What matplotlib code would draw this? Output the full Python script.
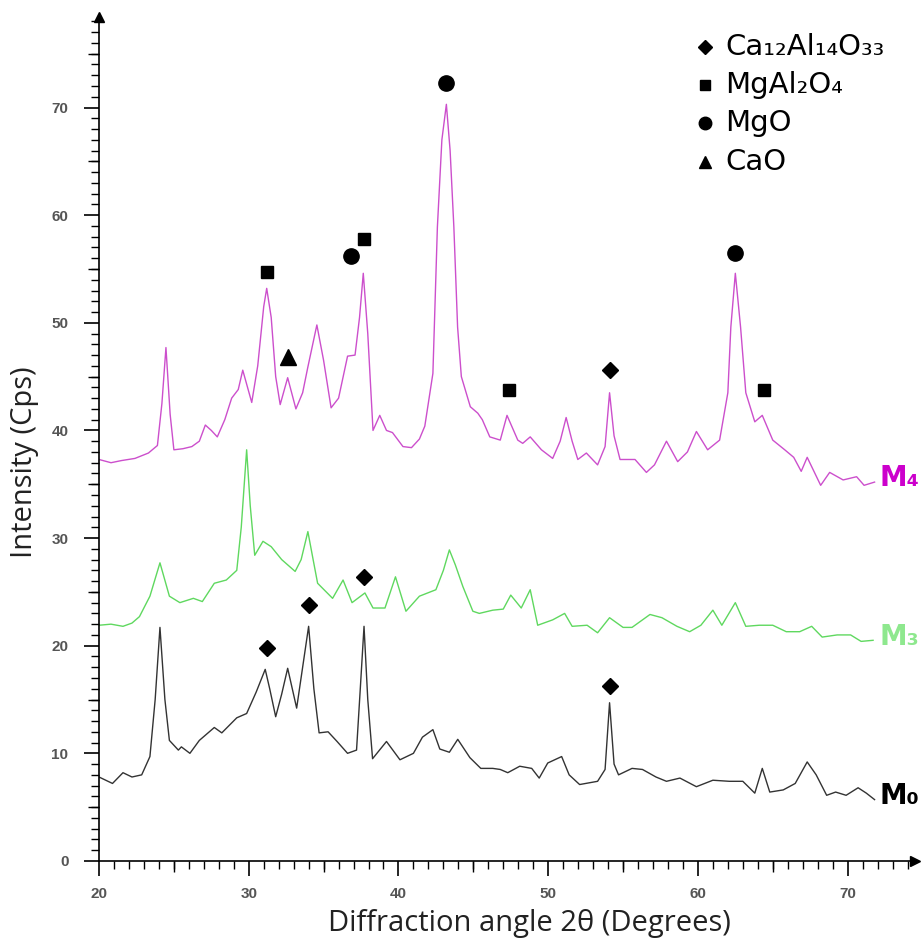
import matplotlib
matplotlib.use("Agg")
import matplotlib.pyplot as plt
from matplotlib.ticker import MultipleLocator, FixedLocator, NullFormatter

# ---------------- data ----------------
m4_x = [20.0, 20.8, 21.5, 22.4, 23.3, 23.9, 24.2, 24.47, 24.75, 25.0, 25.6, 26.2, 26.7, 27.1, 27.5, 27.9,
        28.4, 28.86, 29.3, 29.6, 30.2, 30.6, 31.0, 31.2, 31.5, 31.8, 32.1, 32.6, 33.15, 33.6, 33.95, 34.55,
        35.0, 35.5, 36.0, 36.6, 37.1, 37.4, 37.65, 37.95, 38.3, 38.75, 39.2, 39.6, 40.3, 40.87, 41.4, 41.76,
        42.3, 42.6, 42.9, 43.2, 43.45, 43.7, 43.95, 44.2, 44.8, 45.3, 45.6, 46.1, 46.8, 47.25, 47.97, 48.3,
        48.8, 49.55, 50.3, 50.8, 51.2, 51.6, 51.98, 52.55, 53.3, 53.8, 54.1, 54.4, 54.8, 55.8, 56.56, 57.1,
        57.9, 58.65, 59.3, 59.9, 60.65, 61.45, 62.0, 62.2, 62.5, 62.85, 63.2, 63.8, 64.3, 65.0, 65.8, 66.4,
        66.9, 67.3, 68.2, 68.8, 69.7, 70.6, 71.1, 71.8]
m4_y = [37.3, 37.0, 37.2, 37.4, 37.9, 38.6, 42.5, 47.7, 41.5, 38.2, 38.3, 38.5, 39.0, 40.5, 40.0, 39.4,
        41.0, 43.0, 43.8, 45.6, 42.6, 46.0, 51.5, 53.2, 50.5, 45.0, 42.4, 44.9, 42.0, 43.5, 45.9, 49.8,
        46.5, 42.1, 43.0, 46.9, 47.0, 50.5, 54.6, 49.0, 40.0, 41.4, 40.0, 39.8, 38.5, 38.4, 39.2, 40.4,
        45.3, 58.9, 67.0, 70.3, 66.0, 58.9, 49.6, 45.0, 42.2, 41.6, 41.0, 39.4, 39.1, 41.4, 39.1, 38.8,
        39.4, 38.2, 37.4, 39.0, 41.2, 39.0, 37.3, 37.9, 36.8, 38.5, 43.5, 39.5, 37.3, 37.3, 36.1, 36.8,
        39.0, 37.1, 38.0, 39.9, 38.2, 39.1, 43.5, 49.6, 54.6, 49.6, 43.5, 40.8, 41.4, 39.1, 38.2, 37.5,
        36.2, 37.5, 34.9, 36.1, 35.4, 35.7, 34.9, 35.2]

m3_x = [20.0, 20.8, 21.6, 22.2, 22.7, 23.4, 24.07, 24.7, 25.4, 26.3, 26.9, 27.7, 28.5, 29.2, 29.5, 29.86,
        30.1, 30.4, 30.95, 31.5, 32.2, 33.1, 33.5, 33.95, 34.3, 34.6, 35.6, 36.3, 36.9, 37.76, 38.3, 39.1,
        39.8, 40.5, 41.4, 42.5, 43.0, 43.4, 43.8, 44.3, 44.97, 45.4, 46.3, 47.0, 47.5, 48.2, 48.8, 49.3,
        50.3, 51.1, 51.6, 52.6, 53.3, 54.1, 55.0, 55.6, 56.8, 57.6, 58.6, 59.45, 60.2, 61.0, 61.6, 62.5,
        63.2, 64.1, 65.0, 65.9, 66.8, 67.6, 68.3, 69.3, 70.2, 70.9, 71.7]
m3_y = [21.9, 22.0, 21.8, 22.1, 22.7, 24.6, 27.7, 24.6, 24.0, 24.4, 24.1, 25.8, 26.1, 27.0, 31.0, 38.2,
        33.0, 28.4, 29.7, 29.2, 28.0, 26.9, 28.0, 30.6, 28.0, 25.8, 24.4, 26.1, 24.0, 24.9, 23.5, 23.5,
        26.4, 23.2, 24.6, 25.2, 27.0, 28.9, 27.5, 25.5, 23.2, 23.0, 23.3, 23.4, 24.7, 23.5, 25.2, 21.9,
        22.4, 23.0, 21.8, 21.9, 21.2, 22.6, 21.7, 21.7, 22.9, 22.6, 21.8, 21.3, 21.9, 23.3, 21.9, 24.0,
        21.8, 21.9, 21.9, 21.3, 21.3, 21.8, 20.8, 21.0, 21.0, 20.4, 20.5]

m0_x = [20.0, 20.9, 21.6, 22.2, 22.85, 23.4, 23.75, 24.07, 24.4, 24.7, 25.3, 25.5, 26.07, 26.7, 27.7, 28.2,
        29.2, 29.86, 30.5, 31.1, 31.4, 31.8, 32.2, 32.6, 33.2, 33.6, 34.0, 34.35, 34.7, 35.3, 35.9, 36.6,
        37.2, 37.45, 37.7, 37.95, 38.27, 39.2, 40.1, 41.0, 41.6, 42.3, 42.76, 43.4, 43.96, 44.77, 45.5, 46.3,
        46.8, 47.3, 48.1, 48.9, 49.4, 49.97, 50.9, 51.4, 52.1, 53.3, 53.8, 54.1, 54.4, 54.7, 55.6, 56.3,
        57.2, 57.9, 58.8, 59.9, 61.0, 62.1, 63.0, 63.8, 64.3, 64.8, 65.7, 66.5, 67.3, 67.9, 68.6, 69.2,
        69.9, 70.7, 71.25, 71.8]
m0_y = [7.8, 7.2, 8.2, 7.8, 8.0, 9.7, 15.0, 21.7, 15.0, 11.2, 10.3, 10.6, 10.0, 11.2, 12.4, 11.9,
        13.3, 13.7, 15.7, 17.8, 16.0, 13.4, 15.5, 17.9, 14.2, 18.0, 21.8, 16.0, 11.9, 12.0, 11.1, 10.0,
        10.3, 16.0, 21.8, 15.0, 9.5, 11.1, 9.4, 10.0, 11.5, 12.2, 10.4, 10.1, 11.3, 9.6, 8.6, 8.6,
        8.5, 8.2, 8.8, 8.6, 7.7, 9.1, 9.7, 8.0, 7.1, 7.4, 8.5, 14.7, 9.0, 8.0, 8.6, 8.5,
        7.8, 7.4, 7.7, 6.9, 7.5, 7.4, 7.4, 6.3, 8.6, 6.4, 6.6, 7.2, 9.2, 8.0, 6.1, 6.4,
        6.1, 6.8, 6.3, 5.7]

series_names = ["M\u2084", "M\u2083", "M\u2080"]

# phase markers
ca12_x = [31.2, 34.04, 37.7, 54.1, 54.1]
ca12_y = [19.8, 23.8, 26.4, 16.3, 45.6]
spinel_x = [31.2, 37.7, 47.4, 64.4]
spinel_y = [54.7, 57.8, 43.8, 43.8]
mgo_x = [36.8, 43.2, 62.5]
mgo_y = [56.2, 72.3, 56.5]
cao_x = [32.6]
cao_y = [46.8]

phase_names = ["Ca\u2081\u2082Al\u2081\u2084O\u2083\u2083", "MgAl\u2082O\u2084", "MgO", "CaO"]

x_ticks = [20, 30, 40, 50, 60, 70]
y_ticks = [0, 10, 20, 30, 40, 50, 60, 70]

# ---------------- figure ----------------
fig = plt.figure(figsize=(9.22, 9.46), dpi=100)
ax = fig.add_axes([0.1074, 0.0899, 0.885, 0.892])
ax.set_xlim(20, 74.5)
ax.set_ylim(0, 78.4)

ax.plot(m4_x, m4_y, color="#cc4fcc", lw=1.0)
ax.plot(m3_x, m3_y, color="#5fd85f", lw=1.0)
ax.plot(m0_x, m0_y, color="#333333", lw=1.0)

ax.plot(ca12_x, ca12_y, "D", color="black", ms=8, ls="none")
ax.plot(spinel_x, spinel_y, "s", color="black", ms=8.5, ls="none")
ax.plot(mgo_x, mgo_y, "o", color="black", ms=11, ls="none")
ax.plot(cao_x, cao_y, "^", color="black", ms=11, ls="none")

# series labels
lab_font = dict(fontsize=20, fontweight="bold", family="DejaVu Sans", va="center", ha="left")
ax.text(m4_x[-1] + 0.3, m4_y[-1] + 0.4, series_names[0], color="#cc00cc", **lab_font)
ax.text(m3_x[-1] + 0.45, m3_y[-1] + 0.3, series_names[1], color="#8ee88e", **lab_font)
ax.text(m0_x[-1] + 0.3, m0_y[-1] + 0.3, series_names[2], color="black", **lab_font)

# legend (manual)
leg_markers = ["D", "s", "o", "^"]
leg_sizes = [7, 7, 9, 9]
leg_y = [75.6, 72.1, 68.6, 64.9]
for mk, ms, yy, name in zip(leg_markers, leg_sizes, leg_y, phase_names):
    ax.plot([60.45], [yy], mk, color="black", ms=ms, clip_on=False)
    ax.text(61.85, yy, name, fontsize=21, family="DejaVu Sans", va="center", ha="left", color="black")

# spines
for s in ["top", "right"]:
    ax.spines[s].set_visible(False)
ax.spines["left"].set_linewidth(1.2)
ax.spines["bottom"].set_linewidth(1.2)
ax.plot(1, 0, ">", color="black", ms=7, transform=ax.transAxes, clip_on=False)
ax.plot(0, 1, "^", color="black", ms=7, transform=ax.transAxes, clip_on=False)

# ticks
ax.xaxis.set_major_locator(FixedLocator(x_ticks))
ax.yaxis.set_major_locator(FixedLocator(y_ticks))
ax.xaxis.set_minor_locator(MultipleLocator(1))
ax.yaxis.set_minor_locator(MultipleLocator(1))
ax.tick_params(which="major", direction="out", length=11, width=1.2,
               labelsize=11, labelcolor="#555555")
ax.tick_params(axis="x", which="major", pad=8)
ax.tick_params(axis="y", which="major", pad=11)
ax.tick_params(which="minor", direction="out", length=6, width=1.0)
for lab in ax.get_xticklabels() + ax.get_yticklabels():
    lab.set_family("Liberation Sans")
    lab.set_fontweight("bold")

sx = ax.secondary_xaxis("bottom")
sx.set_xticks([25, 35, 45, 55, 65])
sx.xaxis.set_major_formatter(NullFormatter())
sx.tick_params(length=8, width=1.0, direction="out")
sx.spines["bottom"].set_visible(False)
sy = ax.secondary_yaxis("left")
sy.set_yticks([5, 15, 25, 35, 45, 55, 65, 75])
sy.yaxis.set_major_formatter(NullFormatter())
sy.tick_params(length=8, width=1.0, direction="out")
sy.spines["left"].set_visible(False)

ax.set_xlabel("Diffraction angle 2\u03b8 (Degrees)", fontsize=21, family="Open Sans", color="#222222")
ax.xaxis.set_label_coords(0.527, -0.057)
ax.set_ylabel("Intensity (Cps)", fontsize=21, family="Open Sans", color="#222222")
ax.yaxis.set_label_coords(-0.074, 0.473)

fig.savefig("out.png", dpi=100)
